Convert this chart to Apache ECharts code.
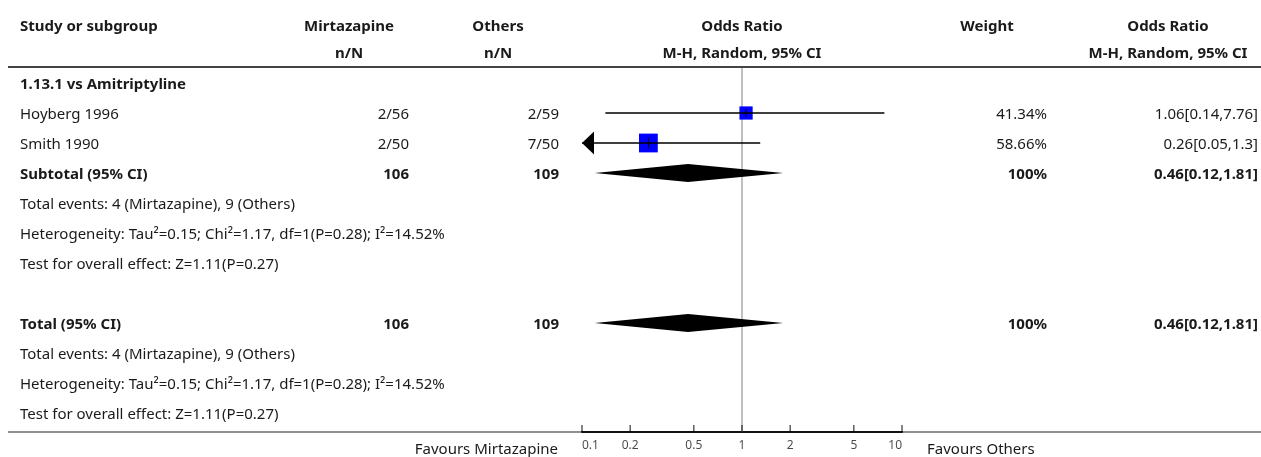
<!DOCTYPE html>
<html>
<head>
<meta charset="utf-8">
<script src="https://cdn.jsdelivr.net/npm/echarts@6/dist/echarts.min.js"></script>
<style>
  html, body { margin: 0; padding: 0; background: #ffffff; }
  #chart { width: 1261px; height: 457px; }
</style>
</head>
<body>
<div id="chart"></div>
<script>
// ---- study data ----
const studies = ['Hoyberg 1996', 'Smith 1990'];
const mirtEvents = [2, 2];
const mirtTotals = [56, 50];
const otherEvents = [2, 7];
const otherTotals = [59, 50];
const oddsRatio = [1.06, 0.26];
const ciLow = [0.14, 0.05];
const ciHigh = [7.76, 1.3];
const weights = [41.34, 58.66];

// ---- pooled estimate (subtotal and total are identical: one subgroup) ----
const pooled = [0.46, 0.12, 1.81];          // OR, lower, upper
const pooledWeight = 100;
const heterogeneity = { tau2: '0.15', chi2: '1.17', df: 1, p: '0.28', i2: '14.52' };
const overallEffect = { z: '1.11', p: '0.27' };

// ---- axis ticks ----
const tickValues = [0.1, 0.2, 0.5, 1, 2, 5, 10];
const tickLabels = ['0.1', '0.2', '0.5', '1', '2', '5', '10'];

// ---- layout ----
const W = 1261, H = 457;
const FONT = '"Noto Sans", Lato, sans-serif';
const FONT_SIZE = 15;
const TEXT_SHIFT = 1.5;                     // baseline nudge for the table text
const INK = '#1a1a1a';
const ROW0_Y = 83, ROW_H = 30;              // pixel centre of row 0, row pitch
const PLOT_TOP = 68, PLOT_BOTTOM = 432;
const PLOT_LEFT = 582, PLOT_RIGHT = 902;
const col = {
  label: 20,
  mirtHead: 349, mirtVal: 409,
  otherHead: 498, otherVal: 559,
  orHead: 742,
  weightHead: 987, weightVal: 1047,
  ciHead: 1168, ciVal: 1258
};
const SQUARE_PER_WEIGHT = 0.32;

const sum = a => a.reduce((s, v) => s + v, 0);
const mirtN = sum(mirtTotals), otherN = sum(otherTotals);
const ciText = (o, l, h) => `${o}[${l},${h}]`;
const eventsText = `Total events: ${sum(mirtEvents)} (Mirtazapine), ${sum(otherEvents)} (Others)`;
const hetText = `Heterogeneity: Tau²=${heterogeneity.tau2}; Chi²=${heterogeneity.chi2}, df=${heterogeneity.df}(P=${heterogeneity.p}); I²=${heterogeneity.i2}%`;
const effectText = `Test for overall effect: Z=${overallEffect.z}(P=${overallEffect.p})`;

// row indices
const ROW_SECTION = 0, ROW_SUB = 3, ROW_TOTAL = 8;
const HEAD1 = (25 - ROW0_Y) / ROW_H, HEAD2 = (52 - ROW0_Y) / ROW_H;

// table cells: [x, row, text, align, bold]
const cells = [];
const cell = (x, r, t, a, b) => cells.push([x, r, t, a, !!b]);
cell(col.label, HEAD1, 'Study or subgroup', 'left', true);
cell(col.mirtHead, HEAD1, 'Mirtazapine', 'center', true);
cell(col.mirtHead, HEAD2, 'n/N', 'center', true);
cell(col.otherHead, HEAD1, 'Others', 'center', true);
cell(col.otherHead, HEAD2, 'n/N', 'center', true);
cell(col.orHead, HEAD1, 'Odds Ratio', 'center', true);
cell(col.orHead, HEAD2, 'M-H, Random, 95% CI', 'center', true);
cell(col.weightHead, HEAD1, 'Weight', 'center', true);
cell(col.ciHead, HEAD1, 'Odds Ratio', 'center', true);
cell(col.ciHead, HEAD2, 'M-H, Random, 95% CI', 'center', true);
cell(col.label, ROW_SECTION, '1.13.1 vs Amitriptyline', 'left', true);
studies.forEach((s, i) => {
  const r = i + 1;
  cell(col.label, r, s, 'left');
  cell(col.mirtVal, r, `${mirtEvents[i]}/${mirtTotals[i]}`, 'right');
  cell(col.otherVal, r, `${otherEvents[i]}/${otherTotals[i]}`, 'right');
  cell(col.weightVal, r, `${weights[i]}%`, 'right');
  cell(col.ciVal, r, ciText(oddsRatio[i], ciLow[i], ciHigh[i]), 'right');
});
[[ROW_SUB, 'Subtotal (95% CI)'], [ROW_TOTAL, 'Total (95% CI)']].forEach(([r, name]) => {
  cell(col.label, r, name, 'left', true);
  cell(col.mirtVal, r, String(mirtN), 'right', true);
  cell(col.otherVal, r, String(otherN), 'right', true);
  cell(col.weightVal, r, `${pooledWeight}%`, 'right', true);
  cell(col.ciVal, r, ciText(pooled[0], pooled[1], pooled[2]), 'right', true);
  cell(col.label, r + 1, eventsText, 'left');
  cell(col.label, r + 2, hetText, 'left');
  cell(col.label, r + 3, effectText, 'left');
});

// y ranges so that row r sits at pixel ROW0_Y + r*ROW_H in both grids
const tableYMin = -ROW0_Y / ROW_H, tableYMax = (H - ROW0_Y) / ROW_H;
const plotYMin = (PLOT_TOP - ROW0_Y) / ROW_H, plotYMax = (PLOT_BOTTOM - ROW0_Y) / ROW_H;

// end tick labels are kept inside the axis span
const tickAlign = i => (i === 0 ? 'left' : i === tickValues.length - 1 ? 'right' : 'center');

const chart = echarts.init(document.getElementById('chart'), null, { renderer: 'canvas' });

chart.setOption({
  animation: false,
  backgroundColor: '#ffffff',
  grid: [
    { left: 0, right: 0, top: 0, bottom: 0 },
    { left: PLOT_LEFT, right: W - PLOT_RIGHT, top: PLOT_TOP, bottom: H - PLOT_BOTTOM }
  ],
  xAxis: [
    { gridIndex: 0, type: 'value', min: 0, max: W, show: false },
    {
      gridIndex: 1, type: 'log', logBase: 10, min: 0.1, max: 10,
      axisLine: { show: true, onZero: false, lineStyle: { color: '#000', width: 2 } },
      axisTick: { show: false }, axisLabel: { show: false }, splitLine: { show: false }
    }
  ],
  yAxis: [
    { gridIndex: 0, type: 'value', min: tableYMin, max: tableYMax, inverse: true, show: false },
    { gridIndex: 1, type: 'value', min: plotYMin, max: plotYMax, inverse: true, show: false }
  ],
  graphic: [
    { type: 'line', shape: { x1: 8, y1: 67, x2: W, y2: 67 }, style: { stroke: '#444', lineWidth: 2 }, z: 1 },
    { type: 'line', shape: { x1: 8, y1: PLOT_BOTTOM, x2: W, y2: PLOT_BOTTOM }, style: { stroke: '#222', lineWidth: 1.2 }, z: 1 },
    { type: 'text', style: { text: 'Favours Mirtazapine', x: 558, y: 450, align: 'right', verticalAlign: 'middle', font: `${FONT_SIZE}px ${FONT}`, fill: INK } },
    { type: 'text', style: { text: 'Favours Others', x: 927, y: 450, align: 'left', verticalAlign: 'middle', font: `${FONT_SIZE}px ${FONT}`, fill: INK } }
  ],
  series: [
    // table text
    {
      type: 'custom', xAxisIndex: 0, yAxisIndex: 0, silent: true,
      data: cells.map(c => [c[0], c[1]]),
      renderItem: (params, api) => {
        const c = cells[params.dataIndex];
        const p = api.coord([api.value(0), api.value(1)]);
        return {
          type: 'text',
          style: {
            text: c[2], x: p[0], y: p[1] + TEXT_SHIFT, align: c[3], verticalAlign: 'middle',
            font: `${c[4] ? 'bold ' : ''}${FONT_SIZE}px ${FONT}`, fill: INK
          }
        };
      }
    },
    // line of no effect
    {
      type: 'line', xAxisIndex: 1, yAxisIndex: 1, silent: true, symbol: 'none',
      data: [[1, plotYMin], [1, plotYMax]],
      lineStyle: { color: '#808080', width: 1 }, z: 1
    },
    // axis ticks with labels
    {
      type: 'scatter', xAxisIndex: 1, yAxisIndex: 1, silent: true, clip: false,
      data: tickValues.map((v, i) => ({
        value: [v, plotYMax],
        label: { formatter: tickLabels[i], align: tickAlign(i) }
      })),
      symbol: 'rect', symbolSize: [1.2, 7], symbolOffset: [0, -3.5],
      itemStyle: { color: '#000' },
      label: { show: true, position: 'bottom', distance: 8, fontSize: 12, fontFamily: FONT, color: INK }
    },
    // study estimates with confidence intervals
    {
      type: 'custom', xAxisIndex: 1, yAxisIndex: 1, silent: true, clip: false,
      data: studies.map((s, i) => [oddsRatio[i], i + 1, ciLow[i], ciHigh[i], weights[i]]),
      renderItem: (params, api) => {
        const row = api.value(1), lo = api.value(2), hi = api.value(3);
        const c = api.coord([api.value(0), row]);
        const l = api.coord([Math.max(lo, 0.1), row]);
        const h = api.coord([Math.min(hi, 10), row]);
        const size = api.value(4) * SQUARE_PER_WEIGHT;
        const children = [
          { type: 'rect', shape: { x: c[0] - size / 2, y: c[1] - size / 2, width: size, height: size }, style: { fill: '#0000ff' } },
          { type: 'line', shape: { x1: l[0], y1: l[1], x2: h[0], y2: h[1] }, style: { stroke: '#000', lineWidth: 1.3 } },
          { type: 'line', shape: { x1: c[0], y1: c[1] - size * 0.3, x2: c[0], y2: c[1] + size * 0.3 }, style: { stroke: '#000', lineWidth: 1 } }
        ];
        if (lo < 0.1) {
          children.push({ type: 'polygon', shape: { points: [[l[0], l[1]], [l[0] + 12, l[1] - 11.5], [l[0] + 12, l[1] + 11.5]] }, style: { fill: '#000' } });
        }
        if (hi > 10) {
          children.push({ type: 'polygon', shape: { points: [[h[0], h[1]], [h[0] - 12, h[1] - 11.5], [h[0] - 12, h[1] + 11.5]] }, style: { fill: '#000' } });
        }
        return { type: 'group', children };
      }
    },
    // pooled diamonds
    {
      type: 'custom', xAxisIndex: 1, yAxisIndex: 1, silent: true, clip: false,
      data: [ROW_SUB, ROW_TOTAL].map(r => [pooled[0], r, pooled[1], pooled[2]]),
      renderItem: (params, api) => {
        const row = api.value(1);
        const c = api.coord([api.value(0), row]);
        const l = api.coord([api.value(2), row]);
        const h = api.coord([api.value(3), row]);
        return {
          type: 'polygon',
          shape: { points: [[l[0], l[1]], [c[0], c[1] - 9], [h[0], h[1]], [c[0], c[1] + 9]] },
          style: { fill: '#000' }
        };
      }
    }
  ]
});
</script>
</body>
</html>
